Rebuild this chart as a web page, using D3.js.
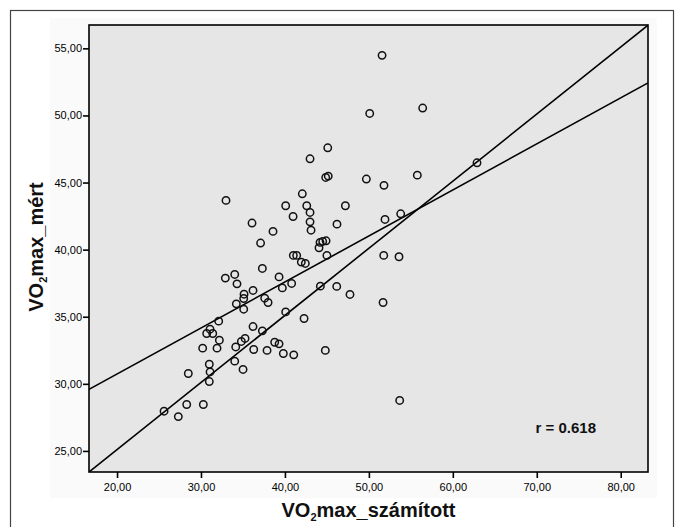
<!DOCTYPE html>
<meta charset="utf-8">
<script src="https://d3js.org/d3.v7.min.js"></script>
<style type="text/css">
body { margin: 0; background: #fff; }
text { font-family: "Liberation Sans", Arial, sans-serif; }
.axis path, .axis line { stroke: #000; stroke-width: 1.6px; }
.axis text { font-size: 11px; fill: #000; }
</style>
<body>
</body>
<script>

  var szamitott = [42.99, 44.86, 45.16, 42.07, 32.98, 40.09, 42.6, 42.99, 40.97, 46.2,
    36.08, 42.99, 43.11, 38.58, 37.1, 44.18, 44.5, 44.9, 44.06, 45.0,
    41.0, 41.4, 37.31, 41.95, 42.43, 32.9, 34.02, 34.29, 39.3, 39.69,
    40.8, 44.22, 46.17, 36.2,
    35.13, 35.09, 34.21, 35.09, 37.59, 37.99, 32.11, 40.09, 42.28, 44.81,
    31.08, 30.68, 31.4, 32.19, 30.2, 31.91, 36.2, 37.31, 34.14, 34.81,
    35.25, 36.28, 37.87, 38.78, 39.3, 39.81, 41.05, 34.02, 30.99, 31.08,
    30.99, 35.01, 28.49, 28.3, 30.28, 25.6, 27.3,
    51.57, 50.1, 56.41, 45.1, 62.88,
    49.7, 51.8, 55.77, 47.2, 51.92, 53.79, 51.77, 53.59, 47.75,
    51.69, 53.67];

  var mert = [46.77, 45.38, 45.48, 44.16, 43.67, 43.27, 43.27, 42.77, 42.47, 41.9,
    41.98, 42.07, 41.45, 41.36, 40.49, 40.54, 40.61, 40.66, 40.14, 39.57,
    39.57, 39.57, 38.6, 39.07, 38.97, 37.88, 38.15, 37.45, 37.97, 37.15,
    37.48, 37.28, 37.26, 36.96,
    36.68, 36.36, 35.96, 35.56, 36.38, 36.06, 34.67, 35.36, 34.87, 32.49,
    34.07, 33.75, 33.75, 33.25, 32.66, 32.66, 34.27, 33.95, 32.75, 33.16,
    33.38, 32.56, 32.49, 33.1, 32.98, 32.26, 32.16, 31.69, 31.46, 30.89,
    30.17, 31.07, 30.77, 28.46, 28.46, 27.96, 27.56,
    54.48, 50.15, 50.55, 47.59, 46.47,
    45.26, 44.79, 45.55, 43.27, 42.25, 42.67, 39.57, 39.47, 36.66,
    36.06, 28.76];

  var xTicks = [20, 30, 40, 50, 60, 70, 80];
  var yTicks = [25, 30, 35, 40, 45, 50, 55];
  var xDomain = [16.66, 83.25];
  var yDomain = [23.43, 56.74];

  // two straight lines: [intercept, slope]
  var fitLine = [23.87, 0.343];
  var steepLine = [15.1, 0.5];
  var rLabel = "r = 0.618";

  var data = szamitott.map(function(d, i) { return {x: d, y: mert[i]}; });

  var margin = {top: 25, right: 33, left: 89};
  var width = 681 - margin.left - margin.right,
      height = 472 - margin.top;

  var svg0 = d3.select("body").append("svg")
      .attr("width", 681)
      .attr("height", 527);

  // outer frame and faint panel
  svg0.append("rect")
    .attr("x", 10.5).attr("y", 10.5)
    .attr("width", 663).attr("height", 530)
    .attr("fill", "#fff").attr("stroke", "#444").attr("stroke-width", 1.2);
  svg0.append("rect")
    .attr("x", 50).attr("y", 18)
    .attr("width", 607).attr("height", 480)
    .attr("fill", "#fafafa");

  var svg = svg0.append("g")
      .attr("transform", "translate(" + margin.left + "," + margin.top + ")");

  var xScale = d3.scaleLinear().domain(xDomain).range([0, width]);
  var yScale = d3.scaleLinear().domain(yDomain).range([height, 0]);

  var fmt = function(d) { return d3.format(".2f")(d).replace(".", ","); };

  svg.append("rect")
    .attr("width", width).attr("height", height)
    .attr("fill", "#e6e6e6");

  svg.append("clipPath").attr("id", "clip")
    .append("rect").attr("width", width).attr("height", height);

  [fitLine, steepLine].forEach(function(l) {
    svg.append("path")
      .datum(xDomain)
      .attr("clip-path", "url(#clip)")
      .attr("fill", "none")
      .attr("stroke", "#000")
      .attr("stroke-width", 1.6)
      .attr("d", d3.line()
        .x(function(d) { return xScale(d); })
        .y(function(d) { return yScale(l[0] + l[1] * d); }));
  });

  svg.selectAll(".pt")
    .data(data)
    .enter().append("circle")
    .attr("class", "pt")
    .attr("cx", function(d) { return xScale(d.x); })
    .attr("cy", function(d) { return yScale(d.y); })
    .attr("r", 3.7)
    .attr("fill", "none")
    .attr("stroke", "#111")
    .attr("stroke-width", 1.5);

  svg.append("rect")
    .attr("width", width).attr("height", height)
    .attr("fill", "none").attr("stroke", "#000").attr("stroke-width", 1.6);

  var xAxis = d3.axisBottom(xScale).tickValues(xTicks).tickFormat(fmt)
    .tickSizeOuter(0).tickSizeInner(6).tickPadding(5);
  var yAxis = d3.axisLeft(yScale).tickValues(yTicks).tickFormat(fmt)
    .tickSizeOuter(0).tickSizeInner(6).tickPadding(1);

  svg.append("g")
    .attr("class", "x axis")
    .attr("transform", "translate(0," + height + ")")
    .call(xAxis)
    .select(".domain").remove();

  svg.append("g")
    .attr("class", "y axis")
    .call(yAxis)
    .select(".domain").remove();

  svg.append("text")
    .attr("x", xScale(83.25) - 52)
    .attr("y", 433 - margin.top)
    .attr("text-anchor", "end")
    .style("font-size", "15px")
    .style("font-weight", "bold")
    .attr("fill", "#111")
    .text(rLabel);

  // axis titles with subscript 2
  var xt = svg.append("text")
    .attr("x", width / 2)
    .attr("y", 517 - margin.top)
    .attr("text-anchor", "middle")
    .style("font-size", "20px")
    .style("font-weight", "bold")
    .attr("fill", "#111");
  xt.append("tspan").text("VO");
  xt.append("tspan").text("2").style("font-size", "11px").attr("dy", 4);
  xt.append("tspan").text("max_számított").attr("dy", -4);

  var yt = svg.append("text")
    .attr("transform", "translate(" + (43 - margin.left) + "," + (247 - margin.top) + ") rotate(-90)")
    .attr("text-anchor", "middle")
    .style("font-size", "20px")
    .style("font-weight", "bold")
    .attr("fill", "#111");
  yt.append("tspan").text("VO");
  yt.append("tspan").text("2").style("font-size", "11px").attr("dy", 4);
  yt.append("tspan").text("max_mért").attr("dy", -4);

</script>
